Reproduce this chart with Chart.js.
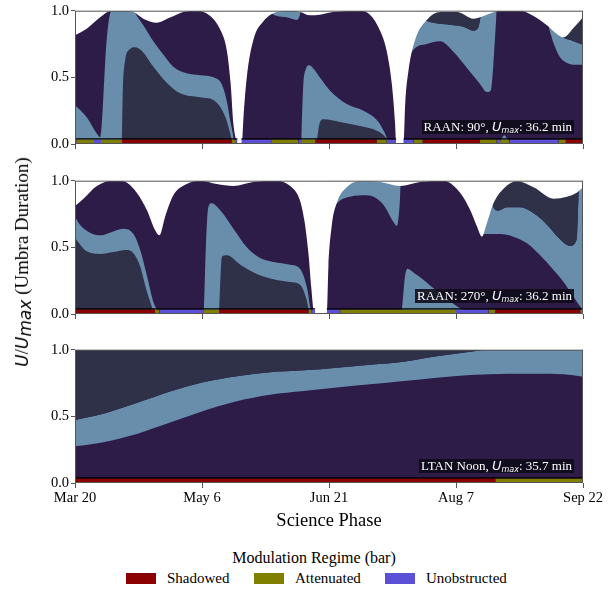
<!DOCTYPE html>
<html>
<head>
<meta charset="utf-8">
<script src="https://cdn.jsdelivr.net/npm/chart.js@4"></script>
<style>
body{margin:0;background:#fff;width:614px;height:593px;position:relative;overflow:hidden;font-family:'Liberation Serif',serif;color:#000;}
canvas{position:absolute;left:0;}
.tag{position:absolute;right:40px;height:14px;background:rgba(14,11,24,0.88);color:#fff;font-size:13px;line-height:14px;padding:0 2px;white-space:nowrap;}
.m{font-family:'DejaVu Sans',sans-serif;font-style:italic;}
.tag sub{font-size:8px;vertical-align:-2px;line-height:0;}
#ytitle{position:absolute;left:22px;top:262px;transform:translate(-50%,-50%) rotate(-90deg);white-space:nowrap;font-size:19px;}
#ytitle .m{font-size:17px;}
#ytitle sub{font-size:12px;vertical-align:-3px;line-height:0;}
#legTitle{position:absolute;left:0;width:628px;top:549px;text-align:center;font-size:16px;}
.leg{position:absolute;top:571px;font-size:15px;line-height:15px;white-space:nowrap;}
.leg span.box{position:absolute;left:0;top:2px;width:30px;height:11px;}
.leg span.txt{position:absolute;left:41px;top:0;}
</style>
</head>
<body>
<canvas id="c1" width="614" height="160" style="top:0px"></canvas>
<canvas id="c2" width="614" height="160" style="top:170px"></canvas>
<canvas id="c3" width="614" height="197" style="top:339px"></canvas>

<div class="tag" style="top:120px">RAAN: 90°, <span class="m">U</span><sub class="m">max</sub>: 36.2 min</div>
<div class="tag" style="top:289px">RAAN: 270°, <span class="m">U</span><sub class="m">max</sub>: 36.2 min</div>
<div class="tag" style="top:459px">LTAN Noon, <span class="m">U</span><sub class="m">max</sub>: 35.7 min</div>

<div id="ytitle"><span class="m">U</span>/<span class="m">U</span><sub class="m">max</sub> (Umbra Duration)</div>

<div id="legTitle">Modulation Regime (bar)</div>
<div id="legend"></div>

<script>
// x axis: days since Mar 20 (186 days to Sep 22)
const tickDays = [0, 46.5, 93, 139.5, 186];
const tickLabels = ['Mar 20', 'May 6', 'Jun 21', 'Aug 7', 'Sep 22'];

const regimes = ['Shadowed', 'Attenuated', 'Unobstructed'];
const regimeColors = ['#8b0000', '#808000', '#5b50d6'];

const PURPLE = '#2d1b48';
const SLATE = '#2f3148';
const BLUE = '#688eac';
const BAR_H = 0.033;
const LINE_Y = 0.038;

// ---- RAAN 90 ----
const p1Envelope = [[0,0.816],[4.3,0.865],[9.2,0.95],[12.8,0.995],[17,1.0],[21.4,0.99],[25,0.94],[29.9,0.91],[35,0.95],[39.7,0.99],[44.6,1.0],[49.5,0.96],[53.1,0.86],[55.6,0.7],[57,0.45],[58,0.15],[59,0.03],[59.4,0],[61.1,0],[61.7,0.2],[62.9,0.5],[65.3,0.78],[69,0.92],[73.9,0.99],[78.8,1.0],[82.4,0.99],[86,0.965],[89.7,0.97],[94.6,0.99],[104.4,1.0],[108,0.97],[111.7,0.85],[114.1,0.7],[116,0.45],[117.2,0.15],[117.6,0],[120.3,0],[120.9,0.3],[122.1,0.55],[124.5,0.78],[128.8,0.93],[133.7,0.99],[139.8,0.99],[145.9,0.94],[150.8,0.97],[155.7,1.0],[163,1.0],[167.9,0.96],[172.8,0.89],[177,0.816],[178.9,0.8],[182.5,0.87],[186,0.95]];

const p1BandALo = [[0,0],[17.1,0],[17.5,0.4],[18.3,0.62],[20.1,0.71],[22,0.725],[24.4,0.7],[28.7,0.58],[33.6,0.46],[38.5,0.38],[45.8,0.35],[50.7,0.33],[53.7,0.26],[55.6,0.17],[56.8,0.08],[57.4,0.03],[58.3,0]];
const p1BandAHi = [[0,0.29],[4.3,0.2],[7.9,0.08],[9.2,0.05],[9.8,0.15],[10.5,0.4],[11.3,0.7],[12.2,0.9],[13.4,1.0],[21.4,1.0],[23,0.95],[25,0.89],[28.7,0.77],[32.4,0.67],[36,0.58],[40.9,0.53],[45.8,0.516],[50.7,0.5],[53.7,0.45],[55.6,0.32],[56.8,0.18],[58,0.05],[58.3,0]];
const p1BandBLo = [[82.8,0],[88.3,0],[88.8,0.06],[89.5,0.15],[91,0.185],[97,0.165],[105.6,0.13],[110.5,0.1],[113,0.066],[114.2,0.03],[114.6,0]];
const p1BandBHi = [[82.8,0],[83.1,0.2],[83.6,0.45],[84.5,0.56],[85.8,0.59],[87.5,0.56],[89.8,0.495],[93.4,0.4],[99.5,0.3],[105.6,0.25],[110.5,0.18],[113,0.1],[114.2,0.04],[114.6,0]];
const p1BandCLo = [[70,1.0],[71,0.99],[73.9,0.96],[77.5,0.95],[81.2,0.93],[82.2,0.96],[82.7,1.0]];
const p1BandCHi = [[70,1.0],[82.7,1.0]];
const p1BandDLo = [[122,0.6],[123.3,0.69],[128.8,0.75],[133.7,0.77],[138.6,0.69],[143.5,0.57],[148.3,0.45],[150.8,0.39],[152.2,0.4],[153.2,0.6],[153.8,0.8],[154.4,1.0]];
const p1BandDHi = [[122,1.0],[125.5,1.0],[127.5,0.94],[131.2,0.91],[137.3,0.895],[142.2,0.88],[145.9,0.85],[147.6,0.87],[148.3,0.93],[149,1.0],[154.4,1.0]];
const p1BandELo = [[173.5,0.87],[175.5,0.74],[177.6,0.65],[180,0.61],[183,0.595],[186,0.595]];
const p1BandEHi = [[173.5,1.0],[176,0.9],[178,0.815],[182,0.775],[186,0.745]];
const p1BandFLo = [[155.4,0],[159,0]];
const p1BandFHi = [[155.4,0],[157.2,0.065],[159,0]];
const p1Bar = [[0,0.6,0],[0.6,6.7,1],[6.7,9.8,2],[9.8,17.1,1],[17.1,57.4,0],[57.4,58.6,1],[58.6,59.5,2],[60.9,72.1,2],[72.1,81.8,1],[81.8,83,2],[83,87.9,1],[87.9,110.5,0],[110.5,114.1,1],[114.1,117.6,2],[120.3,123.9,2],[123.9,127.3,1],[127.3,148.3,0],[148.3,154.4,1],[154.4,155.7,2],[155.7,159.1,1],[159.1,177,2],[177,179.7,1],[179.7,186,0]];

// ---- RAAN 270 ----
const p2Envelope = [[0,0.81],[3.1,0.865],[8,0.96],[14,1.0],[17.7,0.995],[22.6,0.91],[26.3,0.78],[29.3,0.63],[30.9,0.59],[33,0.73],[36,0.89],[40.9,0.975],[45.8,1.0],[51.9,0.975],[58,0.96],[65.3,0.99],[72.7,1.0],[78.8,0.96],[82.4,0.85],[84,0.7],[85.5,0.45],[86.5,0.2],[87.3,0.03],[87.9,0],[92.2,0],[92.8,0.36],[94,0.66],[95.8,0.83],[99.5,0.95],[104.4,0.995],[111.7,0.99],[119,0.96],[126.4,0.99],[134.9,1.0],[141,0.91],[144.7,0.78],[147.1,0.66],[149,0.58],[150.8,0.68],[153.2,0.83],[156.9,0.94],[161.8,0.995],[167.9,0.95],[175.2,0.865],[180.1,0.88],[183.7,0.91],[186,0.95]];

const p2BandALo = [[0,0.57],[4.3,0.47],[9.2,0.45],[14.1,0.465],[18.9,0.48],[21.4,0.456],[23.8,0.36],[26.3,0.17],[28.1,0.056],[28.7,0.02],[30.5,0]];
const p2BandAHi = [[0,0.73],[1.8,0.67],[5.5,0.61],[9.2,0.59],[12.8,0.61],[17.7,0.64],[21.4,0.6],[23.8,0.485],[26.3,0.29],[28.7,0.09],[30,0.03],[30.5,0]];
const p2BandBLo = [[47,0],[52.7,0],[53.1,0.2],[53.8,0.43],[55.6,0.44],[60.5,0.37],[66.6,0.3],[72.7,0.26],[78.8,0.24],[82.4,0.22],[84.9,0.1],[85.5,0.04],[86.5,0]];
const p2BandBHi = [[47,0],[47.2,0.04],[47.9,0.5],[48.8,0.8],[50,0.83],[53.1,0.78],[58,0.64],[62.9,0.5],[67.8,0.42],[72.7,0.39],[78.8,0.37],[82.4,0.34],[84.9,0.2],[86.1,0.05],[86.5,0]];
const p2BandCLo = [[92.2,0.3],[93,0.6],[94.5,0.77],[96,0.83],[100.7,0.88],[106.8,0.89],[112.9,0.82],[116.6,0.69],[117.8,0.66],[118.8,0.8],[119.3,1.0]];
const p2BandCHi = [[92.2,1.0],[119.3,1.0]];
const p2BandDLo = [[119.5,0],[144,0]];
const p2BandDHi = [[119.5,0],[120,0.1],[120.8,0.28],[121.8,0.34],[124,0.31],[128,0.25],[132,0.18],[136,0.12],[139,0.07],[142,0.03],[144,0]];
const p2BandELo = [[149,0.6],[151.4,0.6],[155.7,0.6],[160.5,0.58],[165.5,0.53],[170.3,0.44],[175.2,0.33],[178.9,0.24],[182.5,0.13],[185.6,0.04],[186,0.03]];
const p2BandEHi = [[149,1.0],[152,1.0],[153.2,0.8],[155,0.775],[158.1,0.8],[163,0.8],[167.9,0.755],[172.8,0.67],[177.6,0.56],[181.3,0.51],[183.7,0.56],[184.3,0.85],[184.6,1.0],[186,1.0]];
const p2Bar = [[0,29.3,0],[29.3,30.9,1],[30.9,47.2,2],[47.2,52.7,1],[52.7,85.5,0],[85.5,86.7,1],[86.7,87.9,2],[92.2,97.1,2],[97.1,139.2,1],[139.2,151.4,2],[151.4,153.8,1],[153.8,185,0],[185,186,1]];

// ---- LTAN Noon ----
const p3BandLo = [[0,0.275],[10.4,0.306],[22.6,0.368],[34.8,0.453],[47,0.54],[59.2,0.613],[71.4,0.662],[83.7,0.69],[95.9,0.716],[108.1,0.74],[120.3,0.765],[132.5,0.79],[144.7,0.81],[158.8,0.82],[169,0.82],[178.9,0.816],[186,0.797]];
const p3BandHi = [[0,0.473],[10.4,0.52],[22.6,0.6],[34.8,0.686],[47,0.755],[59.2,0.8],[71.4,0.83],[83.7,0.845],[95.9,0.865],[108.1,0.887],[120.3,0.91],[132.5,0.95],[144.7,0.985],[150.8,1.0],[186,1.0]];
const p3Bar = [[0,153.9,0],[153.9,186,1]];

Chart.defaults.font.family = "'Liberation Serif', serif";
Chart.defaults.color = '#000';

function pts(a) {
    return a.map(p => ({x: p[0], y: p[1]}));
}

const framePlugin = {
    id: 'frame',
    afterDraw(chart) {
        const a = chart.chartArea;
        const ctx = chart.ctx;
        ctx.save();
        ctx.strokeStyle = '#555';
        ctx.lineWidth = 1;
        ctx.strokeRect(a.left + 0.5, a.top + 0.5, a.right - a.left - 1, a.bottom - a.top - 1);
        ctx.restore();
    }
};

function makePanel(id, p) {
    const ds = [];
    function add(o) {
        ds.push(Object.assign({
            pointRadius: 0, borderWidth: 0, tension: 0.4, cubicInterpolationMode: 'monotone',
            backgroundColor: 'transparent', borderColor: 'transparent', fill: false
        }, o));
        return ds.length - 1;
    }
    // background region
    add({data: pts([[0, 1], [186, 1]]), fill: 'start', backgroundColor: PURPLE, order: 9, tension: 0});
    p.bands.forEach(b => {
        if (b[2] === SLATE) {
            // blue from the axis up to the top edge, slate painted under the lower edge
            add({data: pts(b[1]), fill: 'start', backgroundColor: BLUE, order: 7});
            add({data: pts(b[0]), fill: 'start', backgroundColor: SLATE, order: 6});
        } else {
            const i = add({data: pts(b[0]), order: 7});
            add({data: pts(b[1]), fill: i, backgroundColor: BLUE, order: 7});
        }
    });
    (p.slateAbove || []).forEach(a => add({data: pts(a), fill: 'end', backgroundColor: SLATE, order: 5}));
    if (p.envelope) {
        add({data: pts(p.envelope), fill: 'end', backgroundColor: '#fff', order: 3});
    }
    // modulation regime bar
    p.bar.forEach(s => {
        add({data: pts([[s[0], BAR_H], [s[1], BAR_H]]), fill: 'start', backgroundColor: regimeColors[s[2]], order: 2, tension: 0});
    });
    const line = [];
    p.bar.forEach((s, i) => {
        if (i > 0 && p.bar[i - 1][1] < s[0] - 0.01) line.push({x: (p.bar[i - 1][1] + s[0]) / 2, y: null});
        line.push({x: s[0], y: LINE_Y}, {x: s[1], y: LINE_Y});
    });
    add({data: line, borderColor: '#000', borderWidth: 1.3, order: 1, tension: 0, spanGaps: false});

    new Chart(document.getElementById(id), {
        type: 'line',
        data: {datasets: ds},
        options: {
            responsive: false,
            animation: false,
            events: [],
            layout: {padding: {top: 8, right: 31, left: 0, bottom: 0}},
            plugins: {legend: {display: false}, tooltip: {enabled: false}},
            scales: {
                x: {
                    type: 'linear', min: 0, max: 186,
                    afterBuildTicks: s => { s.ticks = tickDays.map(v => ({value: v})); },
                    afterFit: s => { s.height = p.xHeight; },
                    ticks: {display: p.labels, callback: (v, i) => tickLabels[i], maxRotation: 0, autoSkip: false, padding: 1, font: {size: 14.5}},
                    grid: {drawOnChartArea: false, drawTicks: true, tickLength: 5, color: '#555'},
                    border: {display: false},
                    title: {display: p.labels, text: 'Science Phase', font: {size: 18.5}, padding: {top: 0, bottom: 4}}
                },
                y: {
                    min: 0, max: 1,
                    afterBuildTicks: s => { s.ticks = [0, 0.5, 1].map(v => ({value: v})); },
                    afterFit: s => { s.width = 75; },
                    ticks: {callback: v => v.toFixed(1), padding: 2, font: {size: 14.5}},
                    grid: {drawOnChartArea: false, tickLength: 4, color: '#555'},
                    border: {display: false}
                }
            }
        },
        plugins: [framePlugin]
    });
}

makePanel('c1', {
    envelope: p1Envelope,
    bands: [[p1BandALo, p1BandAHi, SLATE], [p1BandBLo, p1BandBHi, SLATE], [p1BandCLo, p1BandCHi, PURPLE], [p1BandDLo, p1BandDHi, PURPLE], [p1BandELo, p1BandEHi, PURPLE], [p1BandFLo, p1BandFHi, PURPLE]],
    slateAbove: [p1BandDHi, p1BandEHi],
    bar: p1Bar, labels: false, xHeight: 16
});
makePanel('c2', {
    envelope: p2Envelope,
    bands: [[p2BandALo, p2BandAHi, SLATE], [p2BandBLo, p2BandBHi, SLATE], [p2BandCLo, p2BandCHi, PURPLE], [p2BandDLo, p2BandDHi, PURPLE], [p2BandELo, p2BandEHi, PURPLE]],
    slateAbove: [p2BandEHi],
    bar: p2Bar, labels: false, xHeight: 16
});
makePanel('c3', {
    envelope: null,
    bands: [[p3BandLo, p3BandHi, PURPLE]],
    slateAbove: [p3BandHi],
    bar: p3Bar, labels: true, xHeight: 53
});

// legend for the regime bar
const legLeft = [126, 254, 385];
const legend = document.getElementById('legend');
regimes.forEach((r, i) => {
    const d = document.createElement('div');
    d.className = 'leg';
    d.style.left = legLeft[i] + 'px';
    d.innerHTML = '<span class="box" style="background:' + regimeColors[i] + '"></span><span class="txt">' + r + '</span>';
    legend.appendChild(d);
});
</script>
</body>
</html>
